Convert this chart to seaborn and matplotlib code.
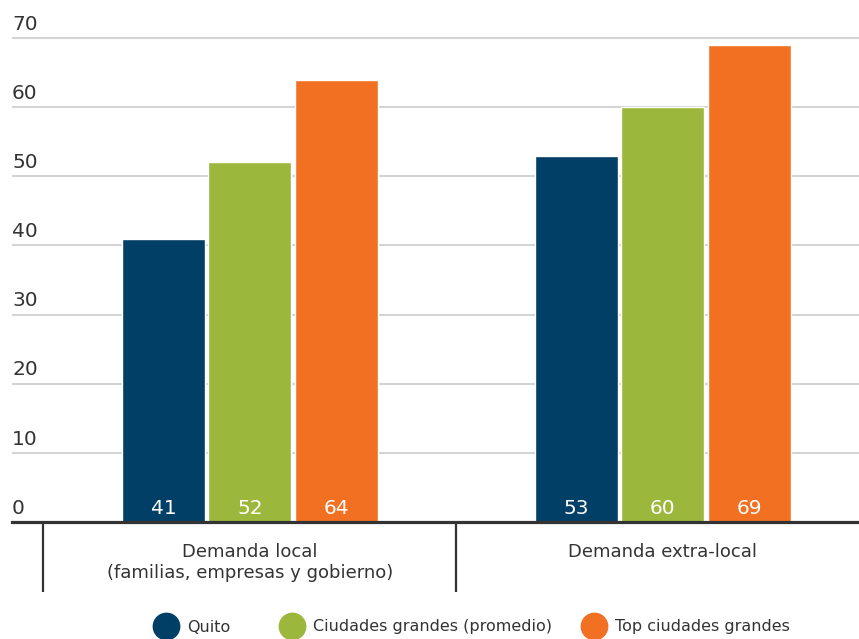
import matplotlib
matplotlib.use("Agg")
import matplotlib.pyplot as plt
import matplotlib.transforms as mtransforms
from matplotlib.lines import Line2D
import pandas as pd
import seaborn as sns

# ─────────────────────────────────────────────
# Data
# ─────────────────────────────────────────────
categories = ["Demanda local\n(familias, empresas y gobierno)", "Demanda extra-local"]
series = ["Quito", "Ciudades grandes (promedio)", "Top ciudades grandes"]
quito = [41, 53]
ciudades_promedio = [52, 60]
top_ciudades = [64, 69]
y_ticks = [0, 10, 20, 30, 40, 50, 60, 70]
colors = ["#023F67", "#9CB83C", "#F27022"]

df = pd.DataFrame({
    "categoria": categories * 3,
    "serie": [s for s in series for _ in categories],
    "valor": quito + ciudades_promedio + top_ciudades,
})

sns.set_style("white")
plt.rcParams["font.family"] = ["DejaVu Sans"]
text_color = "#333333"

fig = plt.figure(figsize=(8.59, 6.39), dpi=100)
ax = fig.add_axes([12 / 859, 117 / 639, 847 / 859, 522 / 639])

sns.barplot(data=df, x="categoria", y="valor", hue="serie",
            order=categories, hue_order=series, palette=colors,
            width=0.628, gap=0.04, saturation=1, legend=False, ax=ax)

ax.set_xlim(-0.576, 1.475)
ax.set_ylim(0, 75.5)
ax.set_xlabel("")
ax.set_ylabel("")

# grid + axis line
ax.set_yticks(y_ticks)
ax.set_yticklabels([])
ax.yaxis.grid(True, color="#d4d4d4", lw=1.5)
ax.set_axisbelow(True)
for side in ["left", "right", "top"]:
    ax.spines[side].set_visible(False)
ax.spines["bottom"].set_color(text_color)
ax.spines["bottom"].set_linewidth(2.3)
ax.spines["bottom"].set_zorder(5)

# y labels sit above their gridline
ytrans = mtransforms.blended_transform_factory(ax.transAxes, ax.transData)
for t in y_ticks:
    ax.text(0, t + 1.2, str(t), transform=ytrans, ha="left", va="baseline",
            fontsize=14.5, color=text_color)
ax.tick_params(axis="y", length=0)

# category labels + separators
ax.set_xticks(range(len(categories)))
ax.set_xticklabels(categories)
ax.tick_params(axis="x", length=0, pad=15, labelsize=13, colors=text_color)
xtrans = mtransforms.blended_transform_factory(ax.transData, ax.transAxes)
for x in [-0.5, 0.5, 1.5]:
    ax.plot([x, x], [0, -0.134], transform=xtrans, color=text_color,
            lw=1.6, clip_on=False, solid_capstyle="butt")

# value labels at the base of each bar
for container, vals in zip(ax.containers, [quito, ciudades_promedio, top_ciudades]):
    for bar, v in zip(container, vals):
        ax.text(bar.get_x() + bar.get_width() / 2, 1.9, f"{v}",
                ha="center", va="center", fontsize=14.5, color="white")

# legend: one entry per call so the uneven spacing of the original is kept
legend_x = [166, 292, 594]
for name, c, cx in zip(series, colors, legend_x):
    h = Line2D([], [], marker="o", ls="", markersize=19, color=c)
    fig.legend([h], [name], loc="center left",
               bbox_to_anchor=((cx - 12.8) / 859, 12 / 639),
               frameon=False, fontsize=11.5, handlelength=1.6,
               handletextpad=0.5, borderpad=0, borderaxespad=0,
               labelcolor=text_color)

plt.savefig("out.png", dpi=100)
plt.close()
